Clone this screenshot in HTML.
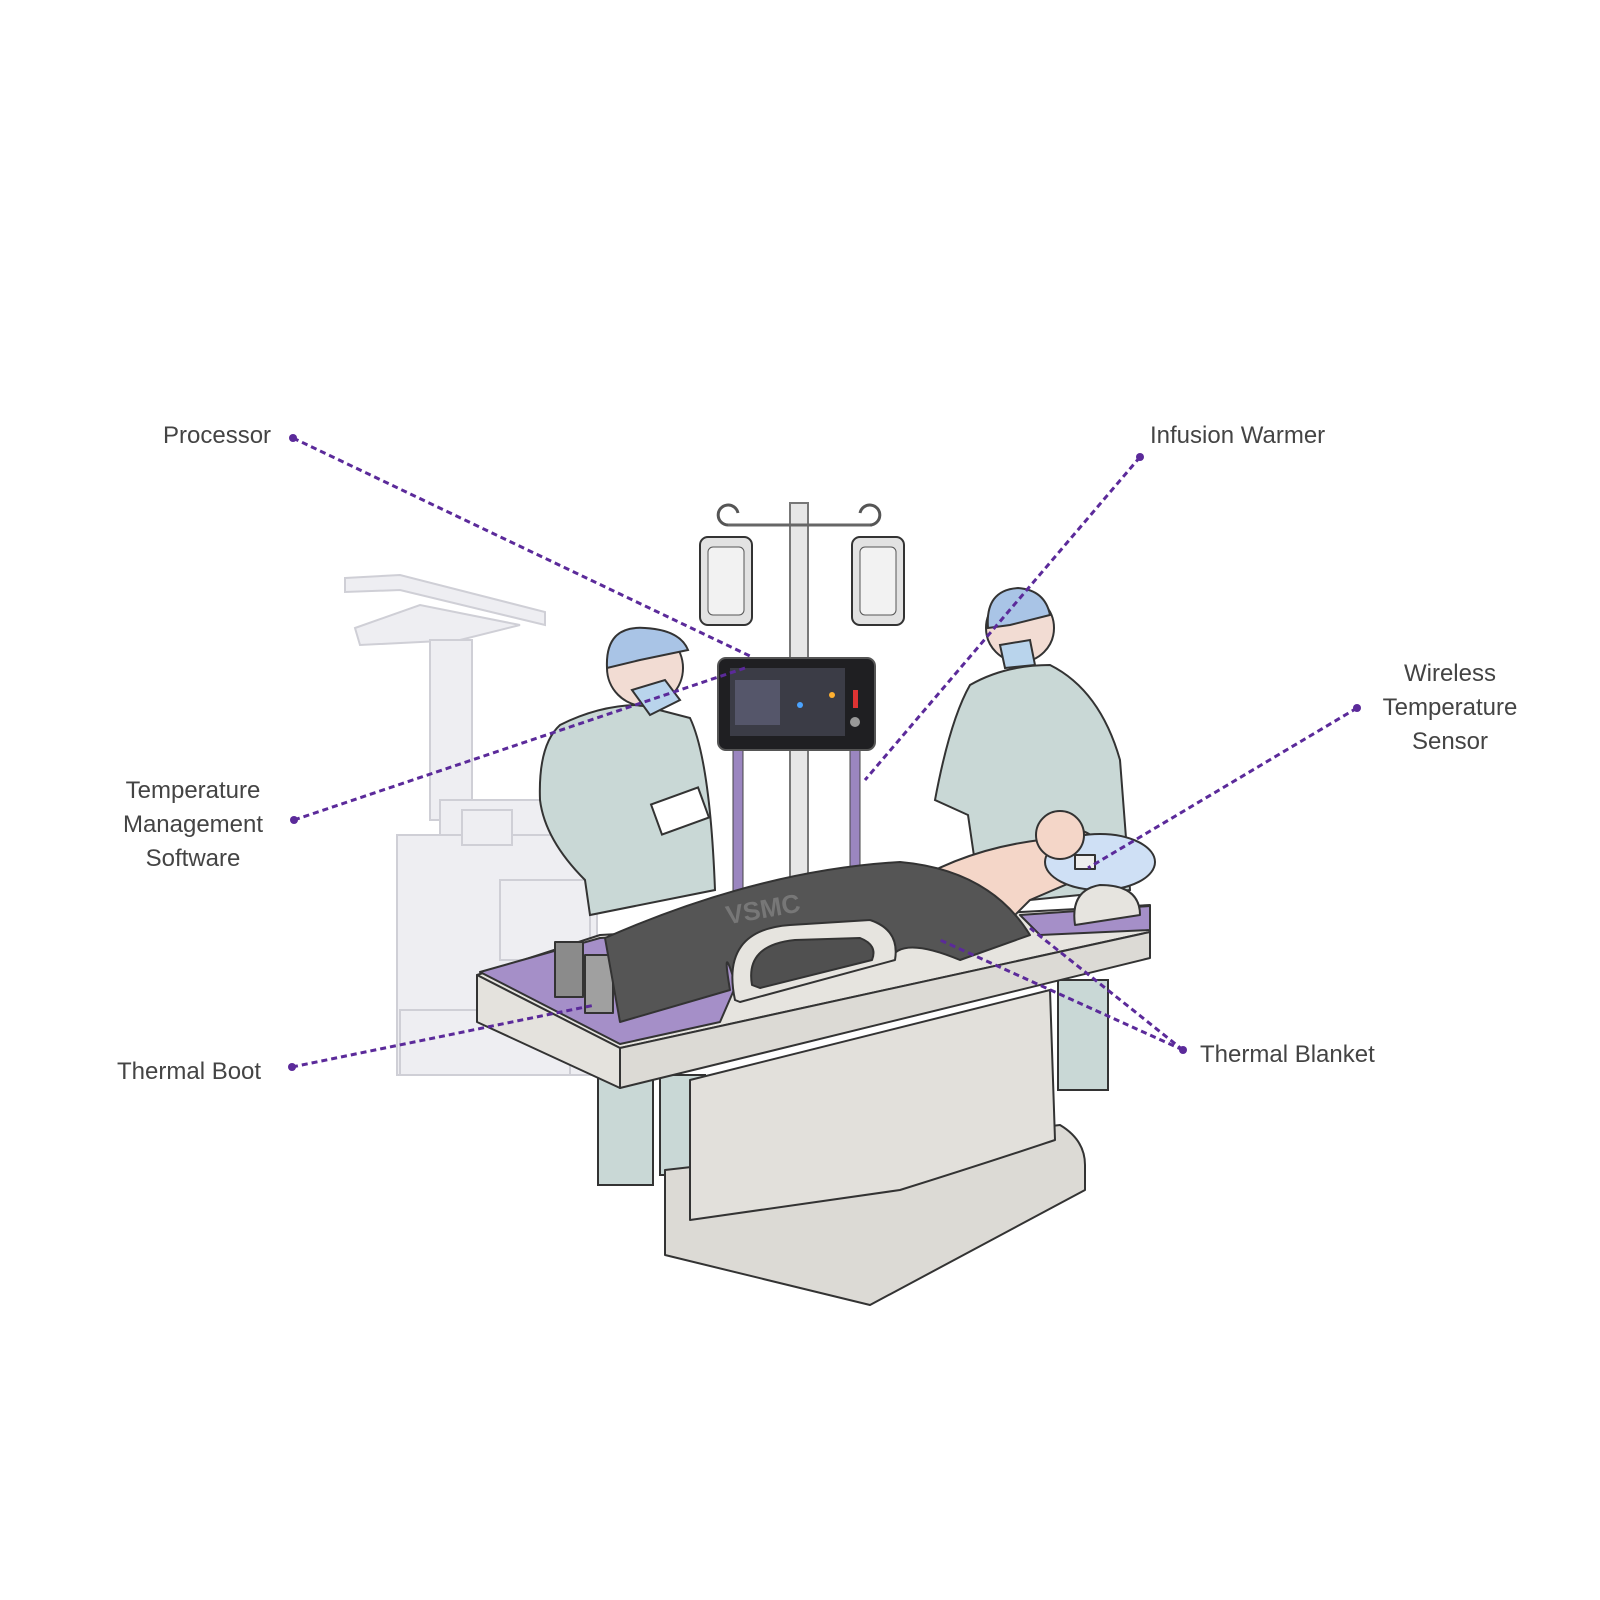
<!DOCTYPE html>
<html><head><meta charset="utf-8"><style>
html,body{margin:0;padding:0;background:#fff}
svg{display:block}
text{font-family:"Liberation Sans","DejaVu Sans",sans-serif;font-size:24px;fill:#444}
</style></head><body>
<svg width="1600" height="1600" viewBox="0 0 1600 1600" xmlns="http://www.w3.org/2000/svg">
<g fill="#eeeef2" stroke="#cfcfd6" stroke-width="2">
<polygon points="345,578 400,575 545,612 545,625 400,590 345,592"/>
<polygon points="355,628 420,605 520,625 460,640 360,645"/>
<rect x="430" y="640" width="42" height="180"/>
<rect x="440" y="800" width="110" height="75"/>
<rect x="397" y="835" width="200" height="240"/>
<rect x="500" y="880" width="90" height="80"/>
<rect x="400" y="1010" width="170" height="65"/>
<rect x="462" y="810" width="50" height="35"/>
</g>
<rect x="790" y="503" width="18" height="390" fill="#e6e6e6" stroke="#777" stroke-width="2"/>
<line x1="728" y1="525" x2="872" y2="525" stroke="#666" stroke-width="3"/>
<path d="M728,525 a10,10 0 1,1 10,-12 M870,525 a10,10 0 1,0 -10,-12" fill="none" stroke="#555" stroke-width="3"/>
<rect x="700" y="537" width="52" height="88" rx="8" fill="#e2e2e2" stroke="#333" stroke-width="2"/>
<rect x="708" y="547" width="36" height="68" rx="5" fill="#f2f2f2" stroke="#555"/>
<rect x="852" y="537" width="52" height="88" rx="8" fill="#e2e2e2" stroke="#333" stroke-width="2"/>
<rect x="860" y="547" width="36" height="68" rx="5" fill="#f2f2f2" stroke="#555"/>
<rect x="733" y="748" width="10" height="145" fill="#9b86c0" stroke="#444"/>
<rect x="850" y="748" width="10" height="120" fill="#9b86c0" stroke="#444"/>
<rect x="718" y="658" width="157" height="92" rx="8" fill="#1f1f22" stroke="#555" stroke-width="2"/>
<rect x="730" y="668" width="115" height="68" fill="#3b3c46"/>
<rect x="735" y="680" width="45" height="45" fill="#55566a"/>
<circle cx="800" cy="705" r="3" fill="#4aa3ff"/><circle cx="832" cy="695" r="3" fill="#ffb030"/>
<rect x="853" y="690" width="5" height="18" fill="#d33"/>
<circle cx="855" cy="722" r="5" fill="#999"/>
<g stroke="#333" stroke-width="2">
<rect x="598" y="1075" width="55" height="110" fill="#c9d8d6"/>
<rect x="660" y="1075" width="45" height="100" fill="#c9d8d6"/>
<path d="M560,725 Q600,705 640,705 L690,718 Q710,760 715,890 L590,915 L585,880 Q545,840 540,800 Q538,745 560,725Z" fill="#c9d8d6"/>
<circle cx="645" cy="668" r="38" fill="#f2dcd3"/>
<path d="M607,668 Q605,625 645,628 Q680,630 688,650 L640,660 Z" fill="#a9c4e6"/>
<path d="M632,690 L665,680 L680,700 L650,715 Z" fill="#b9d4ec"/>
<rect x="655" y="795" width="50" height="32" fill="#fff" transform="rotate(-20 680 811)"/>
<rect x="1058" y="980" width="50" height="110" fill="#c9d8d6"/>
<path d="M970,685 Q1005,665 1050,665 Q1100,690 1120,760 L1130,890 L980,905 Q975,860 968,815 L935,800 Q950,720 970,685Z" fill="#c9d8d6"/>
<circle cx="1020" cy="628" r="34" fill="#f2dcd3"/>
<path d="M988,628 Q985,590 1018,588 Q1045,590 1050,615 L1010,625 Z" fill="#a9c4e6"/>
<path d="M1000,645 L1030,640 L1035,665 L1005,668 Z" fill="#b9d4ec"/>
</g>
<g stroke="#333" stroke-width="2" stroke-linejoin="round">
<path d="M665,1170 L1060,1125 Q1085,1140 1085,1165 L1085,1190 L870,1305 L665,1255 Z" fill="#dcdad5"/>
<path d="M690,1080 L1050,990 L1055,1140 Q980,1165 900,1190 L690,1220 Z" fill="#e2e0db"/>
<polygon points="477,975 600,935 1150,905 1150,932 620,1048" fill="#e6e4df"/>
<polygon points="480,972 600,938 760,930 720,1022 620,1044" fill="#a58fc8"/>
<polygon points="1020,915 1150,906 1150,930 1040,935" fill="#a58fc8"/>
<polygon points="477,975 620,1048 620,1088 477,1022" fill="#e4e2dd"/>
<polygon points="620,1048 1150,932 1150,958 620,1088" fill="#dcdad5"/>
<path d="M900,890 Q960,850 1040,840 L1080,830 Q1110,840 1100,870 L1030,900 L1000,930 Z" fill="#f4d6c8"/>
<ellipse cx="1100" cy="862" rx="55" ry="28" fill="#cfe0f5"/>
<circle cx="1060" cy="835" r="24" fill="#f4d6c8"/>
<rect x="1075" y="855" width="20" height="14" fill="#eee"/>
<path d="M1075,925 Q1070,890 1100,885 Q1140,885 1140,915 Z" fill="#e6e4df"/>
<rect x="555" y="942" width="28" height="55" fill="#8b8b8b"/>
<rect x="585" y="955" width="28" height="58" fill="#a0a0a0"/>
<path d="M605,938 Q760,870 900,862 Q990,870 1030,935 L960,960 Q900,935 890,960 L740,1000 Q720,930 730,990 L620,1022 Z" fill="#555" stroke="#333"/>
<path d="M735,1000 Q720,930 790,925 L870,920 Q900,930 895,960 L740,1002 Z" fill="#e6e4df"/>
<path d="M752,985 Q745,945 795,940 L860,938 Q878,945 872,960 L760,988 Z" fill="#505050"/>
</g>
<text x="725" y="915" style="font-size:26px;font-weight:bold;fill:#777" transform="rotate(-10 780 905)">VSMC</text>
<g stroke="#5b2a9a" stroke-width="3" stroke-dasharray="6 4" fill="none">
<line x1="293" y1="438" x2="752" y2="657"/>
<line x1="294" y1="820" x2="745" y2="668"/>
<line x1="292" y1="1067" x2="595" y2="1005"/>
<line x1="1140" y1="457" x2="865" y2="780"/>
<line x1="1357" y1="708" x2="1088" y2="868"/>
<line x1="1183" y1="1050" x2="940" y2="940"/>
<line x1="1183" y1="1050" x2="1030" y2="928"/>
</g>
<g fill="#5b2a9a">
<circle cx="293" cy="438" r="4"/><circle cx="294" cy="820" r="4"/><circle cx="292" cy="1067" r="4"/>
<circle cx="1140" cy="457" r="4"/><circle cx="1357" cy="708" r="4"/><circle cx="1183" cy="1050" r="4"/>
</g>
<text x="163" y="443">Processor</text>
<text x="1150" y="443">Infusion Warmer</text>
<text x="1450" y="681" text-anchor="middle">Wireless</text>
<text x="1450" y="715" text-anchor="middle">Temperature</text>
<text x="1450" y="749" text-anchor="middle">Sensor</text>
<text x="193" y="798" text-anchor="middle">Temperature</text>
<text x="193" y="832" text-anchor="middle">Management</text>
<text x="193" y="866" text-anchor="middle">Software</text>
<text x="117" y="1079">Thermal Boot</text>
<text x="1200" y="1062">Thermal Blanket</text>
</svg>
</body></html>
